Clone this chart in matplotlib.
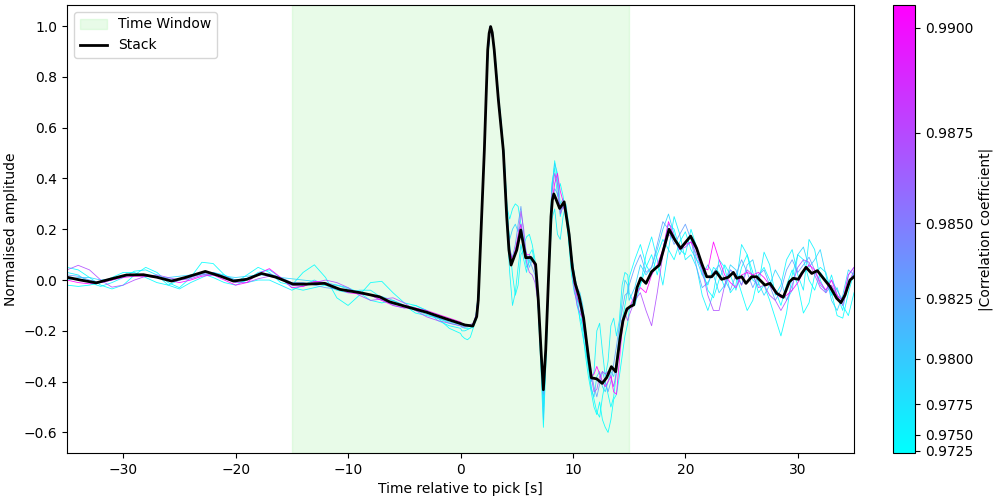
import numpy as np
import matplotlib
matplotlib.use("Agg")
import matplotlib.pyplot as plt
from matplotlib.colors import PowerNorm
from matplotlib.cm import ScalarMappable
from matplotlib.patches import Patch
from matplotlib.lines import Line2D

# ---------------- data ----------------
stack_time = [-35.0, -33.8, -32.4, -31.2, -29.7, -28.2, -27.0, -25.7, -24.4, -22.7, -21.4, -20.2, -19.0,
              -17.7, -16.4, -14.9, -13.7, -12.1, -10.7, -8.9, -7.2, -6.3, -4.8, -3.0, -1.2, 0.4, 1.1, 1.44,
              1.58, 1.88, 2.12, 2.27, 2.42, 2.55, 2.68, 2.82, 3.0, 3.37, 3.81, 4.11, 4.31, 4.5, 5.0, 5.36,
              5.8, 6.25, 6.68, 6.92, 7.16, 7.37, 7.58, 7.81, 8.05, 8.17, 8.3, 8.5, 8.82, 9.22, 9.66, 9.95,
              10.2, 10.55, 10.95, 11.37, 11.64, 12.11, 12.6, 13.0, 13.42, 13.8, 14.19, 14.45, 14.8, 15.08,
              15.4, 15.7, 16.03, 16.5, 17.0, 17.68, 18.13, 18.55, 19.08, 19.58, 20.06, 20.47, 21.0, 21.45,
              21.9, 22.34, 22.73, 23.23, 23.82, 24.27, 24.57, 25.01, 25.39, 25.9, 26.34, 27.08, 27.53, 28.12,
              28.71, 29.25, 29.6, 30.05, 30.35, 30.73, 31.24, 31.74, 32.27, 32.87, 33.46, 33.84, 34.2, 34.64,
              35.0]
stack_amp = [0.011, 0.0, -0.011, 0.003, 0.020, 0.021, 0.011, -0.004, 0.011, 0.034, 0.016, -0.004, 0.003,
             0.026, 0.011, -0.016, -0.016, -0.013, -0.037, -0.050, -0.066, -0.086, -0.105, -0.127, -0.154,
             -0.177, -0.181, -0.144, -0.079, 0.25, 0.51, 0.71, 0.906, 0.972, 0.998, 0.975, 0.906, 0.709, 0.51,
             0.25, 0.118, 0.059, 0.118, 0.197, 0.088, 0.089, 0.062, -0.079, -0.276, -0.432, -0.276, -0.013,
             0.25, 0.315, 0.339, 0.318, 0.282, 0.308, 0.18, 0.05, -0.013, -0.065, -0.15, -0.30, -0.385,
             -0.389, -0.407, -0.384, -0.341, -0.361, -0.23, -0.16, -0.114, -0.105, -0.098, -0.03, 0.008,
             -0.013, 0.033, 0.059, 0.131, 0.2, 0.157, 0.125, 0.151, 0.173, 0.125, 0.066, 0.013, 0.013, 0.033,
             0.003, 0.011, 0.03, 0.007, 0.013, -0.013, 0.013, 0.013, -0.02, -0.013, -0.052, -0.068, -0.007,
             0.007, 0.003, 0.026, 0.05, 0.026, 0.037, 0.007, -0.026, -0.072, -0.089, -0.059, 0.0, 0.013]

# sampling of the individual traces
trace_time = np.concatenate([np.arange(-35.0, 0.5, 1.0),
                             np.arange(0.125, 15.0, 0.25),
                             np.arange(15.0, 35.25, 0.5)])

correlations = [0.9711, 0.9728, 0.9752, 0.9790, 0.9830, 0.9872, 0.9905]

trace_a = [0.05, 0.04, 0.01, -0.02, -0.035, -0.02, 0.02, 0.05, 0.03, -0.01, -0.03, 0.01, 0.07, 0.065, 0.02, -0.01,
           0.02, 0.05, 0.03, -0.01, -0.02, 0.03, 0.06, 0.01, -0.07, -0.10, -0.06, -0.01, -0.005, -0.05, -0.09,
           -0.10, -0.12, -0.15, -0.19, -0.21,
           -0.22, -0.23, -0.235, -0.225, -0.19, -0.15, -0.06, 0.24, 0.50, 0.84, 0.99, 0.96, 0.86, 0.73, 0.62,
           0.50, 0.30, 0.14, 0.02, -0.06, -0.02, 0.10, 0.12, 0.05, 0.07, 0.09, 0.05, -0.08, -0.32, -0.58, -0.30,
           0.05, 0.35, 0.47, 0.40, 0.25, 0.30, 0.26, 0.15, 0.02, -0.05, -0.08, -0.10, -0.20, -0.30, -0.38, -0.44,
           -0.50, -0.53, -0.48, -0.55, -0.58, -0.60, -0.55, -0.47, -0.45, -0.38, -0.30, -0.22, -0.17,
           -0.12, -0.06, -0.02, 0.05, 0.10, 0.02, 0.12, 0.22, 0.20, 0.12, 0.10, 0.20, 0.13, 0.02, -0.02, 0.05,
           0.03, -0.03, 0.04, 0.02, -0.05, -0.12, -0.08, 0.02, 0.05, 0.00, -0.04, -0.10, -0.02, 0.04, -0.02,
           -0.13, -0.09, 0.02, 0.05, 0.03, -0.05, -0.14, -0.15, -0.05, 0.03]
trace_b = [-0.02, -0.025, -0.02, -0.01, 0.01, 0.03, 0.03, 0.01, -0.01, -0.02, 0.0, 0.02, 0.025, 0.01, -0.01, -0.02,
           0.0, 0.03, 0.04, 0.01, -0.03, -0.04, -0.03, -0.02, -0.02, -0.03, -0.05, -0.08, -0.09, -0.08, -0.10,
           -0.13, -0.14, -0.15, -0.17, -0.18,
           -0.185, -0.19, -0.19, -0.19, -0.185, -0.16, -0.07, 0.23, 0.50, 0.84, 0.99, 0.97, 0.86, 0.72, 0.61,
           0.48, 0.29, 0.24, 0.28, 0.30, 0.29, 0.22, 0.14, 0.17, 0.18, 0.14, 0.08, -0.06, -0.28, -0.50, -0.26,
           0.08, 0.38, 0.44, 0.33, 0.38, 0.33, 0.25, 0.16, 0.06, -0.02, -0.10, -0.15, -0.18, -0.25, -0.35, -0.42,
           -0.47, -0.52, -0.54, -0.46, -0.40, -0.45, -0.50, -0.46, -0.36, -0.25, -0.16, -0.10, -0.04,
           0.01, 0.08, 0.14, 0.06, 0.02, 0.10, 0.16, 0.12, 0.08, 0.15, 0.19, 0.12, 0.08, 0.05, -0.04, -0.07,
           0.00, 0.06, 0.02, -0.04, 0.05, 0.10, 0.03, -0.05, -0.02, -0.08, -0.15, -0.22, -0.13, 0.02, 0.10,
           0.08, 0.00, -0.04, 0.03, 0.00, -0.06, -0.03, -0.10, -0.14, -0.05]
trace_c = [0.03, 0.02, -0.01, -0.025, -0.01, 0.01, 0.035, 0.04, 0.02, -0.02, -0.035, -0.01, 0.01, 0.03, 0.02, 0.0,
           -0.01, 0.0, 0.0, -0.02, -0.04, -0.02, 0.0, -0.02, -0.04, -0.05, -0.04, -0.04, -0.07, -0.10, -0.11,
           -0.10, -0.12, -0.16, -0.18, -0.19,
           -0.20, -0.20, -0.195, -0.19, -0.18, -0.14, -0.04, 0.26, 0.52, 0.86, 1.0, 0.95, 0.83, 0.70, 0.59,
           0.46, 0.22, 0.03, -0.10, -0.05, 0.05, 0.14, 0.08, 0.03, 0.10, 0.12, 0.06, -0.07, -0.27, -0.47, -0.24,
           0.04, 0.24, 0.28, 0.18, 0.16, 0.25, 0.30, 0.22, 0.10, 0.02, -0.06, -0.16, -0.22, -0.28, -0.34, -0.40,
           -0.36, -0.20, -0.17, -0.28, -0.38, -0.32, -0.18, -0.15, -0.22, -0.16, -0.02, 0.03, 0.02,
           -0.05, -0.10, -0.02, 0.10, 0.17, 0.08, -0.02, 0.12, 0.25, 0.18, 0.08, 0.10, 0.05, -0.06, -0.12, -0.05,
           0.08, 0.05, -0.05, -0.02, 0.14, 0.10, 0.00, -0.02, 0.11, 0.06, -0.06, -0.02, 0.08, 0.12, 0.02,
           -0.04, 0.16, 0.12, 0.00, -0.05, 0.02, -0.06, -0.12, 0.02, 0.05]
trace_d = [0.0, 0.01, 0.01, 0.0, 0.005, 0.015, 0.02, 0.015, 0.01, 0.01, 0.015, 0.02, 0.02, 0.02, 0.015, 0.01,
           0.015, 0.02, 0.02, 0.01, 0.005, 0.0, -0.005, -0.01, -0.02, -0.035, -0.05, -0.06, -0.065, -0.08, -0.10,
           -0.12, -0.135, -0.15, -0.165, -0.175,
           -0.18, -0.185, -0.185, -0.18, -0.175, -0.14, -0.04, 0.27, 0.52, 0.85, 0.99, 0.95, 0.85, 0.72, 0.61,
           0.48, 0.26, 0.16, 0.20, 0.22, 0.19, 0.22, 0.16, 0.10, 0.05, 0.08, 0.06, -0.04, -0.24, -0.55, -0.24,
           0.10, 0.36, 0.46, 0.42, 0.30, 0.32, 0.28, 0.20, 0.10, 0.02, -0.03, -0.05, -0.10, -0.20, -0.32, -0.43,
           -0.46, -0.38, -0.36, -0.42, -0.44, -0.40, -0.36, -0.38, -0.32, -0.20, -0.08, 0.0, -0.02,
           -0.08, -0.03, 0.06, 0.02, 0.05, 0.12, 0.20, 0.26, 0.18, 0.10, 0.15, 0.17, 0.08, 0.02, 0.06, 0.02,
           -0.05, -0.02, 0.06, 0.04, -0.02, 0.06, 0.08, -0.01, -0.06, -0.02, 0.04, 0.00, -0.08, -0.04, 0.10,
           0.13, 0.05, 0.08, 0.12, 0.02, -0.08, -0.12, -0.06, 0.04, 0.02]
trace_e = [0.02, 0.015, 0.0, -0.01, 0.0, 0.015, 0.02, 0.02, 0.015, 0.005, 0.0, 0.01, 0.025, 0.03, 0.015, 0.0,
           0.005, 0.02, 0.025, 0.01, -0.01, -0.01, -0.02, -0.03, -0.035, -0.04, -0.045, -0.06, -0.08, -0.095,
           -0.10, -0.11, -0.13, -0.15, -0.16, -0.17,
           -0.175, -0.18, -0.18, -0.18, -0.175, -0.15, -0.05, 0.25, 0.51, 0.85, 0.99, 0.95, 0.84, 0.71, 0.60,
           0.47, 0.25, 0.12, 0.09, 0.14, 0.22, 0.29, 0.18, 0.10, 0.08, 0.05, 0.02, -0.08, -0.26, -0.45, -0.22,
           0.08, 0.30, 0.36, 0.34, 0.27, 0.30, 0.27, 0.20, 0.09, 0.02, -0.03, -0.07, -0.12, -0.20, -0.28, -0.36,
           -0.42, -0.46, -0.41, -0.36, -0.40, -0.44, -0.40, -0.33, -0.26, -0.18, -0.12, -0.06, -0.05,
           -0.02, 0.05, 0.10, 0.03, 0.05, 0.14, 0.23, 0.20, 0.14, 0.18, 0.22, 0.16, 0.05, -0.03, -0.01, 0.03,
           0.06, 0.00, -0.04, 0.02, 0.08, 0.03, -0.03, 0.02, 0.04, -0.02, -0.08, -0.04, 0.04, 0.08, 0.03,
           0.06, 0.09, 0.04, -0.02, -0.04, 0.00, -0.04, -0.08, -0.02, 0.03]
trace_f = [0.04, 0.058, 0.04, 0.0, -0.028, -0.02, 0.0, 0.015, 0.02, 0.01, 0.0, 0.005, 0.02, 0.025, 0.01, -0.01,
           -0.01, 0.005, 0.015, 0.005, -0.02, -0.025, -0.01, 0.0, -0.01, -0.03, -0.06, -0.08, -0.075, -0.07,
           -0.09, -0.12, -0.145, -0.16, -0.17, -0.18,
           -0.185, -0.185, -0.18, -0.175, -0.17, -0.14, -0.05, 0.25, 0.51, 0.85, 1.0, 0.96, 0.85, 0.72, 0.61,
           0.48, 0.26, 0.12, 0.07, 0.10, 0.18, 0.27, 0.20, 0.07, 0.03, 0.02, -0.01, -0.08, -0.25, -0.40, -0.22,
           0.08, 0.34, 0.42, 0.38, 0.26, 0.29, 0.26, 0.18, 0.06, -0.04, -0.10, -0.13, -0.15, -0.22, -0.30, -0.38,
           -0.44, -0.43, -0.38, -0.36, -0.37, -0.36, -0.38, -0.42, -0.36, -0.24, -0.16, -0.13, -0.16,
           -0.14, -0.08, -0.05, -0.12, -0.18, -0.05, 0.10, 0.18, 0.16, 0.12, 0.13, 0.15, 0.10, 0.04, -0.06, -0.12,
           -0.12, -0.02, 0.04, 0.02, -0.02, 0.04, 0.02, -0.03, -0.02, -0.06, -0.08, -0.12, -0.08, -0.02, 0.05,
           0.08, 0.07, 0.02, -0.03, -0.05, -0.02, -0.06, -0.10, -0.02, 0.04]
trace_g = [0.0, -0.01, -0.015, -0.01, 0.0, 0.01, 0.015, 0.015, 0.01, 0.0, -0.01, 0.0, 0.015, 0.02, 0.0, -0.02,
           -0.01, 0.025, 0.045, 0.01, -0.03, -0.025, -0.005, -0.01, -0.03, -0.05, -0.055, -0.06, -0.08, -0.10,
           -0.11, -0.11, -0.12, -0.135, -0.15, -0.165,
           -0.17, -0.175, -0.18, -0.18, -0.18, -0.15, -0.05, 0.25, 0.51, 0.85, 0.99, 0.95, 0.84, 0.71, 0.60,
           0.47, 0.24, 0.11, 0.08, 0.12, 0.17, 0.22, 0.14, 0.10, 0.10, 0.08, 0.05, -0.06, -0.26, -0.42, -0.24,
           0.07, 0.30, 0.38, 0.42, 0.35, 0.31, 0.26, 0.19, 0.08, -0.01, -0.07, -0.10, -0.16, -0.24, -0.31, -0.38,
           -0.37, -0.34, -0.37, -0.40, -0.42, -0.40, -0.38, -0.44, -0.45, -0.32, -0.20, -0.13, -0.12,
           -0.11, -0.06, -0.03, -0.05, 0.02, 0.06, 0.12, 0.23, 0.17, 0.12, 0.14, 0.15, 0.12, 0.05, 0.04, 0.15,
           0.08, 0.02, -0.01, -0.03, 0.02, 0.03, 0.02, 0.03, 0.01, -0.02, -0.05, -0.07, -0.06, -0.04, -0.01,
           0.03, 0.06, 0.04, -0.01, -0.04, 0.00, -0.06, -0.08, 0.02, 0.05]
traces = [trace_a, trace_b, trace_c, trace_d, trace_e, trace_f, trace_g]

window = (-15.0, 15.0)
cbar_ticks = [0.9725, 0.9750, 0.9775, 0.9800, 0.9825, 0.9850, 0.9875, 0.9900]

# ---------------- plot ----------------
fig = plt.figure(figsize=(10, 5), dpi=100)
ax = fig.add_axes([0.067, 0.094, 0.787, 0.896])
cax = fig.add_axes([0.893, 0.094, 0.022, 0.896])

cmap = plt.get_cmap("cool")
norm = PowerNorm(gamma=2, vmin=min(correlations), vmax=max(correlations))

ax.axvspan(window[0], window[1], color="lightgreen", alpha=0.2)

for tr, cc in zip(traces, correlations):
    ax.plot(trace_time, tr, color=cmap(norm(cc)), lw=0.6, alpha=0.9)

ax.plot(stack_time, stack_amp, color="black", lw=2)

ax.set_xlim(-35, 35)
ax.set_ylim(-0.681, 1.083)
ax.set_xlabel("Time relative to pick [s]")
ax.set_ylabel("Normalised amplitude")

handles = [Patch(facecolor="lightgreen", edgecolor="lightgreen", alpha=0.2, label="Time Window"),
           Line2D([0], [0], color="black", lw=2, label="Stack")]
ax.legend(handles=handles, loc="upper left")

sm = ScalarMappable(norm=norm, cmap=cmap)
cb = fig.colorbar(sm, cax=cax)
cb.set_ticks(cbar_ticks)
cb.set_ticklabels([f"{v:.4f}" for v in cbar_ticks])
cb.set_label("|Correlation coefficient|")

fig.savefig("out.png", dpi=100)
